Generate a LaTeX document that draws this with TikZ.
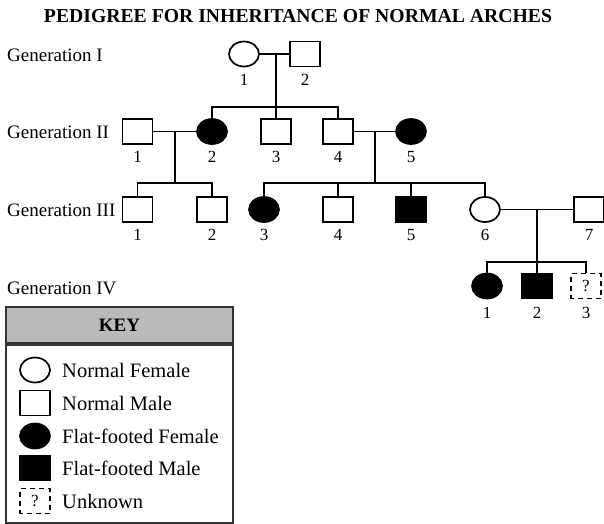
\documentclass[tikz,border=0pt]{standalone}
\usepackage{fontspec}
\setmainfont{Liberation Serif}
\usetikzlibrary{shapes.geometric}

\tikzset{
  person/.style={draw, line width=1.7pt, minimum width=30pt, minimum height=25pt, inner sep=0pt},
  male/.style={person, rectangle},
  female/.style={person, ellipse},
  flat/.style={fill=black},
  unknown/.style={person, rectangle, dash pattern=on 5pt off 4pt, dash phase=2pt, font=\fontsize{17}{19}\selectfont},
  num/.style={inner sep=0pt, font=\fontsize{17}{19}\selectfont},
  gen/.style={anchor=west, inner sep=0pt, font=\fontsize{19}{22}\selectfont},
  keytext/.style={anchor=west, inner sep=0pt, font=\fontsize{20.5}{24}\selectfont},
  link/.style={line width=1.7pt},
  keyframe/.style={draw=black!80, line width=1.8pt}
}

\begin{document}
\begin{tikzpicture}[x=1pt, y=-1pt]
\useasboundingbox (0,0) rectangle (604,523);

\node[font=\bfseries\fontsize{19.7}{22}\selectfont] (title) at (298,16) {PEDIGREE FOR INHERITANCE OF NORMAL ARCHES};

\node[gen] (genI) at (7,55) {Generation I};
\node[gen] (genII) at (7,132) {Generation II};
\node[gen] (genIII) at (7,210) {Generation III};
\node[gen] (genIV) at (7,288) {Generation IV};

% generation I
\node[female] (I1) at (244,54) {};
\node[male] (I2) at (305,54) {};

% generation II
\node[male] (II1) at (137.5,131.5) {};
\node[female, flat] (II2) at (212,131.5) {};
\node[male] (II3) at (276,131.5) {};
\node[male] (II4) at (338,131.5) {};
\node[female, flat] (II5) at (411,131.5) {};

% generation III
\node[male] (III1) at (137.5,209.5) {};
\node[male] (III2) at (212,209.5) {};
\node[female, flat] (III3) at (264,209.5) {};
\node[male] (III4) at (338,209.5) {};
\node[male, flat] (III5) at (411,209.5) {};
\node[female] (III6) at (485,209.5) {};
\node[male] (III7) at (589,209.5) {};

% generation IV
\node[female, flat] (IV1) at (487,286) {};
\node[male, flat] (IV2) at (537,286) {};
\node[unknown] (IV3) at (586,286) {?};

\foreach \p/\x/\y/\t in {I1/244/80/1, I2/305/80/2,
    II1/137.5/157/1, II2/212/157/2, II3/276/157/3, II4/338/157/4, II5/411/157/5,
    III1/137.5/235/1, III2/212/235/2, III3/264/235/3, III4/338/235/4,
    III5/411/235/5, III6/485/235/6, III7/589/235/7,
    IV1/487/313/1, IV2/537/313/2, IV3/586/313/3}
  \node[num] (n\p) at (\x,\y) {\t};

% matings and sibships
\coordinate (mI) at (276,54);
\coordinate (sII) at (276,107);
\draw[link] (I1) -- (I2);
\draw[link] (mI) -- (II3.north);
\draw[link] (II2.north) |- (sII) -| (II4.north);

\coordinate (mIIa) at (175,131.5);
\coordinate (sIIIa) at (175,183);
\draw[link] (II1) -- (II2);
\draw[link] (mIIa) -- (sIIIa);
\draw[link] (III1.north) |- (sIIIa) -| (III2.north);

\coordinate (mIIb) at (375,131.5);
\coordinate (sIIIb) at (375,183);
\draw[link] (II4) -- (II5);
\draw[link] (mIIb) -- (sIIIb);
\draw[link] (III3.north) |- (sIIIb) -| (III6.north);
\draw[link] (III4.north) -- (III4 |- sIIIb);
\draw[link] (III5.north) -- (III5 |- sIIIb);

\coordinate (mIII) at (537,209.5);
\coordinate (sIV) at (537,262);
\draw[link] (III6) -- (III7);
\draw[link] (mIII) -- (IV2.north);
\draw[link] (IV1.north) |- (sIV) -| (IV3.north);

% key
\node[keyframe, fill=black!27, minimum width=227pt, minimum height=36pt, inner sep=0pt,
  font=\bfseries\fontsize{19}{22}\selectfont] (keyhead) at (119.5,325) {KEY};
\node[keyframe, minimum width=227pt, minimum height=178pt, anchor=north] (keybox) at (keyhead.south) {};

\node[female] (kf) at (35,370) {};
\node[keytext] (kft) at (62,370) {Normal Female};
\node[male] (km) at (35,403) {};
\node[keytext] (kmt) at (62,403) {Normal Male};
\node[female, flat] (kff) at (35,436) {};
\node[keytext] (kfft) at (62,436) {Flat-footed Female};
\node[male, flat] (kfm) at (35,468) {};
\node[keytext] (kfmt) at (62,468) {Flat-footed Male};
\node[unknown] (ku) at (35,501) {?};
\node[keytext] (kut) at (62,501) {Unknown};
\end{tikzpicture}
\end{document}
